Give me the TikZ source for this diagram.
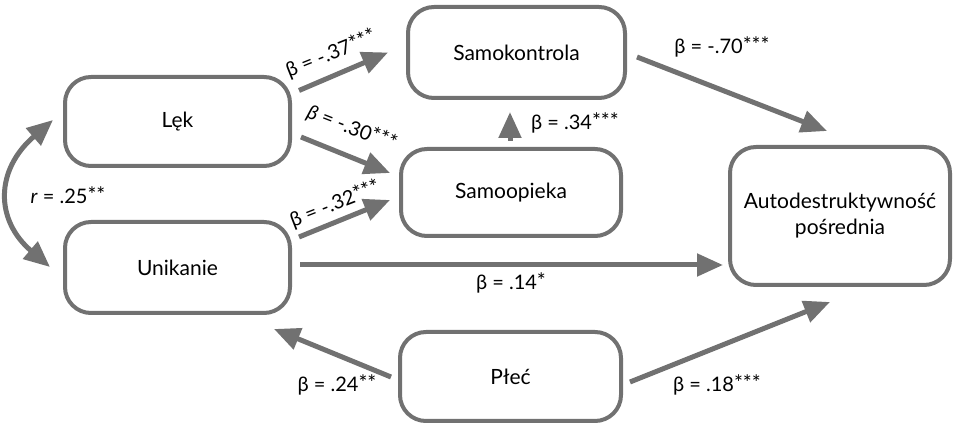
\documentclass[tikz,border=0pt]{standalone}
\usepackage{fontspec}
\setmainfont{Lato}
\usetikzlibrary{arrows.meta,calc}
\definecolor{lc}{HTML}{717171}
\newcommand{\sig}[1]{\raisebox{0.1ex}{\fontsize{21}{21}\selectfont #1}}
\begin{document}
\begin{tikzpicture}[x=1pt,y=-1pt,
  box/.style={draw=lc, line width=4pt, rounded corners=26pt, fill=white, align=center,
    font=\fontsize{21}{26}\selectfont, inner sep=0pt},
  arr/.style={draw=lc, line width=5pt, -{Triangle[length=26pt,width=22pt]}},
  dbl/.style={draw=lc, line width=5pt, {Triangle[length=26pt,width=22pt]}-{Triangle[length=26pt,width=22pt]}},
  lab/.style={font=\fontsize{20}{23}\selectfont, inner sep=0pt}]
\useasboundingbox (0,0) rectangle (954,427);

\node[box, minimum width=225pt, minimum height=89pt] (lek) at (177.5,121.5) {Lęk};
\node[box, minimum width=225pt, minimum height=91pt] (unik) at (177.5,267.5) {Unikanie};
\node[box, minimum width=217pt, minimum height=91pt] (samok) at (516.5,52.5) {Samokontrola};
\node[box, minimum width=220pt, minimum height=87pt] (samoo) at (511,192.5) {Samoopieka};
\node[box, minimum width=220pt, minimum height=138pt] (auto) at (840,216) {Autodestruktywność\\pośrednia};
\node[box, minimum width=221pt, minimum height=89pt] (plec) at (510.5,376.5) {Płeć};

\draw[arr] ($(lek.east)+(7,-31)$) -- ($(samok.west)+(-18,0)$);
\draw[arr] ($(lek.east)+(9,15.5)$) -- ($(samoo.west)+(-9,-19.5)$);
\draw[arr] ($(unik.east)+(7,-30.5)$) -- ($(samoo.west)+(-9,7.5)$);
\draw[arr] ($(samoo.north)+(-1,-6)$) -- ($(samok.south)+(-6.5,12)$);
\draw[arr] ($(samok.east)+(10,4.5)$) -- ($(auto.north)+(-13,-14)$);
\draw[arr] ($(unik.east)+(8,-2.5)$) -- ($(auto.west)+(-5,49)$);
\draw[arr] ($(plec.west)+(-7,0.5)$) -- ($(unik.south east)+(-18,14)$);
\draw[arr] ($(plec.east)+(7,5.5)$) -- ($(auto.south)+(-10,15)$);
\draw[dbl] ($(lek.west)+(-10,-1.5)$) .. controls (-5,170) and (-5,220) .. ($(unik.west)+(-13,-0.5)$);

\node[lab, rotate=21.7] (l1) at (331,54) {β = -.37\sig{***}};
\node[lab, rotate=-21.2] (l2) at (352,128) {\textit{β} = -.30\sig{***}};
\node[lab, rotate=21.3] (l3) at (335,204) {β = -.32\sig{***}};
\node[lab] (l4) at (575,123) {β = .34\sig{***}};
\node[lab] (l5) at (722,47) {β = -.70\sig{***}};
\node[lab] (l6) at (511,283) {β = .14\sig{*}};
\node[lab] (l7) at (337,385) {β = .24\sig{**}};
\node[lab] (l8) at (717,385) {β = .18\sig{***}};
\node[lab] (l9) at (68,195) {\textit{r} = .25\sig{**}};
\end{tikzpicture}
\end{document}
